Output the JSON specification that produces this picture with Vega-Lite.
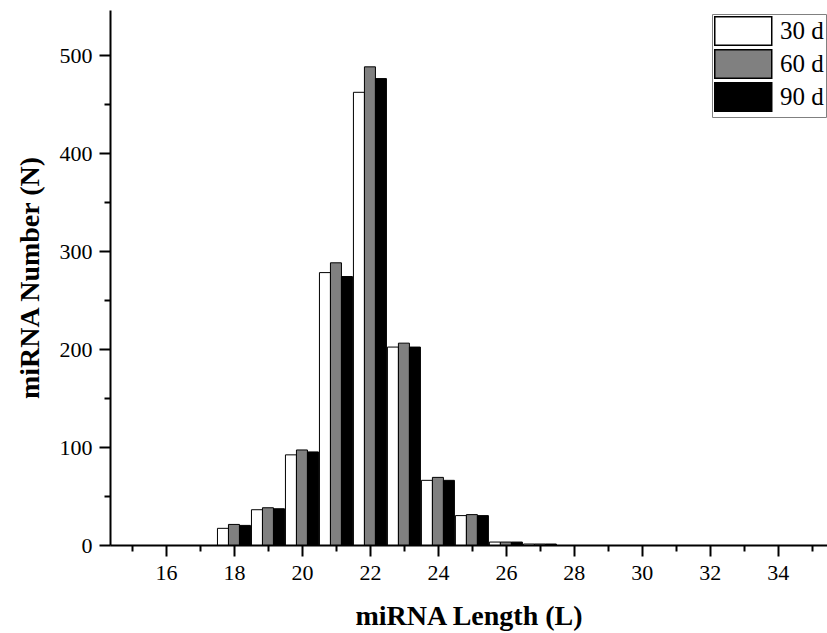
{
  "$schema": "https://vega.github.io/schema/vega-lite/v6.json",
  "width": 717,
  "height": 535,
  "autosize": {"type": "none"},
  "padding": {"left": 110, "top": 10, "right": 0, "bottom": 88},
  "background": "white",
  "config": {
    "view": {"stroke": null},
    "font": "Liberation Serif"
  },
  "data": {
    "values": [
      {"L": 18, "series": "30 d", "N": 17}, {"L": 18, "series": "60 d", "N": 21}, {"L": 18, "series": "90 d", "N": 20},
      {"L": 19, "series": "30 d", "N": 36}, {"L": 19, "series": "60 d", "N": 38}, {"L": 19, "series": "90 d", "N": 37},
      {"L": 20, "series": "30 d", "N": 92}, {"L": 20, "series": "60 d", "N": 97}, {"L": 20, "series": "90 d", "N": 95},
      {"L": 21, "series": "30 d", "N": 278}, {"L": 21, "series": "60 d", "N": 288}, {"L": 21, "series": "90 d", "N": 274},
      {"L": 22, "series": "30 d", "N": 462}, {"L": 22, "series": "60 d", "N": 488}, {"L": 22, "series": "90 d", "N": 476},
      {"L": 23, "series": "30 d", "N": 202}, {"L": 23, "series": "60 d", "N": 206}, {"L": 23, "series": "90 d", "N": 202},
      {"L": 24, "series": "30 d", "N": 66}, {"L": 24, "series": "60 d", "N": 69}, {"L": 24, "series": "90 d", "N": 66},
      {"L": 25, "series": "30 d", "N": 30}, {"L": 25, "series": "60 d", "N": 31}, {"L": 25, "series": "90 d", "N": 30},
      {"L": 26, "series": "30 d", "N": 3}, {"L": 26, "series": "60 d", "N": 3}, {"L": 26, "series": "90 d", "N": 3},
      {"L": 27, "series": "30 d", "N": 1}, {"L": 27, "series": "60 d", "N": 1}, {"L": 27, "series": "90 d", "N": 1}
    ]
  },
  "encoding": {
    "x": {
      "field": "L",
      "type": "quantitative",
      "scale": {"domain": [14.5, 35.3], "nice": false, "zero": false},
      "axis": {
        "title": "miRNA Length (L)",
        "values": [15,16,17,18,19,20,21,22,23,24,25,26,27,28,29,30,31,32,33,34,35],
        "labelExpr": "datum.value % 2 === 0 ? datum.label : ''",
        "grid": false,
        "domainColor": "black",
        "domainWidth": 2,
        "tickColor": "black",
        "tickWidth": 2,
        "tickSize": {"condition": {"test": "datum.value % 2 === 0", "value": 11}, "value": 6},
        "labelFontSize": 22,
        "labelColor": "black",
        "labelPadding": 6,
        "titleFontSize": 28,
        "titleFontWeight": "bold",
        "titleColor": "black",
        "titlePadding": 19
      }
    },
    "y": {
      "field": "N",
      "type": "quantitative",
      "scale": {"domain": [0, 546], "nice": false},
      "axis": {
        "title": "miRNA Number (N)",
        "values": [0,50,100,150,200,250,300,350,400,450,500],
        "labelExpr": "datum.value % 100 === 0 ? datum.label : ''",
        "grid": false,
        "domainColor": "black",
        "domainWidth": 2,
        "tickColor": "black",
        "tickWidth": 2,
        "tickSize": {"condition": {"test": "datum.value % 100 === 0", "value": 11}, "value": 6},
        "labelFontSize": 22,
        "labelColor": "black",
        "labelPadding": 7,
        "titleFontSize": 28,
        "titleFontWeight": "bold",
        "titleColor": "black",
        "titlePadding": 15
      }
    },
    "fill": {
      "field": "series",
      "type": "nominal",
      "scale": {"domain": ["30 d", "60 d", "90 d"], "range": ["#ffffff", "#808080", "#000000"]},
      "legend": {
        "title": null,
        "orient": "none",
        "legendX": 602,
        "legendY": 4,
        "symbolType": "M-1,-1H3V1H-1Z",
        "symbolSize": 812,
        "symbolStrokeColor": "black",
        "symbolStrokeWidth": 1.5,
        "labelFontSize": 25,
        "labelColor": "black",
        "labelOffset": 36,
        "rowPadding": -5,
        "padding": 2,
        "strokeColor": "#808080",
        "fillColor": "white"
      }
    }
  },
  "layer": [
    {
      "transform": [{"filter": "datum.series === '30 d'"}],
      "mark": {"type": "bar", "width": 11, "xOffset": -11, "stroke": "black", "strokeWidth": 1}
    },
    {
      "transform": [{"filter": "datum.series === '60 d'"}],
      "mark": {"type": "bar", "width": 11, "xOffset": 0, "stroke": "black", "strokeWidth": 1}
    },
    {
      "transform": [{"filter": "datum.series === '90 d'"}],
      "mark": {"type": "bar", "width": 11, "xOffset": 11, "stroke": "black", "strokeWidth": 1}
    }
  ]
}
